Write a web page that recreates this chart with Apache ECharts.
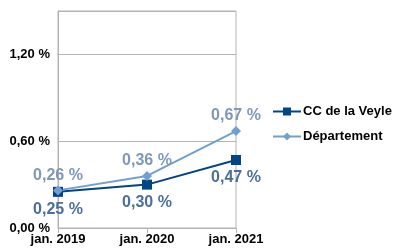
<!DOCTYPE html>
<html><head><meta charset="utf-8">
<script src="https://cdn.jsdelivr.net/npm/echarts@6/dist/echarts.min.js"></script>
<style>html,body{margin:0;padding:0;background:#fff}#c{width:395px;height:251px}</style>
</head><body><div id="c"></div>
<script>
var categories = ['jan. 2019', 'jan. 2020', 'jan. 2021'];
var ccVeyle = [0.25, 0.30, 0.47];
var departement = [0.26, 0.36, 0.67];
var seriesNames = ['CC de la Veyle', 'Département'];

function pct(v){ return v.toFixed(2).replace('.', ',') + ' %'; }

var chart = echarts.init(document.getElementById('c'), null, {renderer:'canvas'});
chart.setOption({
  animation: false,
  textStyle: {fontFamily: 'Liberation Sans'},
  grid: {left: 58, right: 159, top: 11, bottom: 23, show: true, borderColor: '#b3b3b3', borderWidth: 1},
  legend: {
    orient: 'vertical', left: 267, top: 100, itemGap: 12, itemWidth: 28, itemHeight: 10, padding: 5,
    data: seriesNames,
    textStyle: {fontFamily: 'Liberation Sans', fontWeight: 'bold', fontSize: 13, color: '#000', padding: [0, 0, 0, -3]}
  },
  xAxis: {
    type: 'category', data: categories, boundaryGap: false,
    axisLine: {lineStyle: {color: '#b3b3b3'}},
    axisTick: {show: true, length: 5, lineStyle: {color: '#b3b3b3'}},
    axisLabel: {fontFamily: 'Liberation Sans', fontWeight: 'bold', fontSize: 13, color: '#000', margin: 5}
  },
  yAxis: {
    type: 'value', min: 0, max: 1.5, interval: 0.6,
    axisLine: {show: true, lineStyle: {color: '#b3b3b3'}},
    axisTick: {show: false},
    splitLine: {lineStyle: {color: '#b3b3b3'}},
    axisLabel: {fontFamily: 'Liberation Sans', fontWeight: 'bold', fontSize: 13, color: '#000', margin: 8,
      formatter: function(v){ return (Math.abs(v - 1.5) < 1e-6) ? '' : pct(v); }}
  },
  series: [
    {name: seriesNames[0], type: 'line', data: ccVeyle, symbol: 'rect', symbolSize: 10,
      lineStyle: {color: '#004586', width: 2}, itemStyle: {color: '#004586'},
      label: {show: true, position: 'bottom', distance: 5, formatter: function(p){return pct(p.value);},
        fontFamily: 'Liberation Sans', fontWeight: 'bold', fontSize: 16, color: '#4a6f9c'}},
    {name: seriesNames[1], type: 'line', data: departement, symbol: 'diamond', symbolSize: 10,
      lineStyle: {color: '#729fcf', width: 2}, itemStyle: {color: '#729fcf'},
      label: {show: true, position: 'top', distance: 2, formatter: function(p){return pct(p.value);},
        fontFamily: 'Liberation Sans', fontWeight: 'bold', fontSize: 16, color: '#7d98bb'}}
  ]
});
</script></body></html>
